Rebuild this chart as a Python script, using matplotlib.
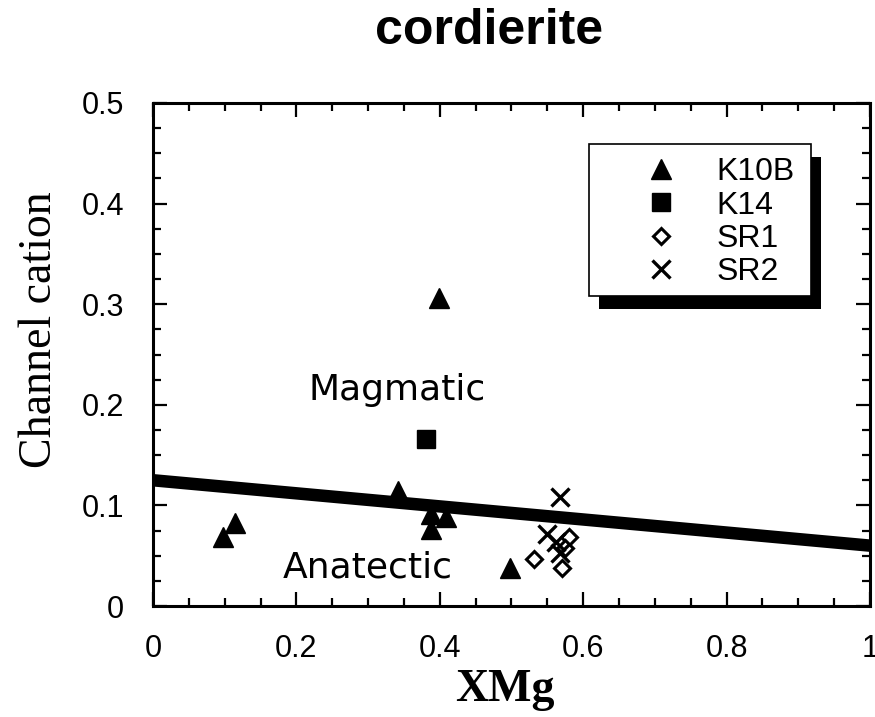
import numpy as np
import matplotlib
matplotlib.use("Agg")
import matplotlib.pyplot as plt
from matplotlib.patches import Rectangle
from matplotlib.ticker import MultipleLocator

# data
k10b_x = [0.097, 0.114, 0.342, 0.388, 0.388, 0.408, 0.399, 0.498]
k10b_y = [0.069, 0.083, 0.114, 0.091, 0.077, 0.088, 0.306, 0.038]
k14_x = [0.381]
k14_y = [0.166]
sr1_x = [0.531, 0.580, 0.571, 0.575]
sr1_y = [0.047, 0.069, 0.038, 0.058]
sr2_x = [0.568, 0.550, 0.562, 0.568]
sr2_y = [0.108, 0.072, 0.064, 0.053]

# boundary line
line_x = [0.0, 1.0]
line_y = [0.125, 0.060]

xtick_vals = [0, 0.2, 0.4, 0.6, 0.8, 1.0]
xtick_labels = ["0", "0.2", "0.4", "0.6", "0.8", "1"]
ytick_vals = [0, 0.1, 0.2, 0.3, 0.4, 0.5]
ytick_labels = ["0", "0.1", "0.2", "0.3", "0.4", "0.5"]

W, H = 875, 717
fig = plt.figure(figsize=(W / 100, H / 100), dpi=100)
# axes box in pixels: left 153, right 870, top 103, bottom 606
ax = fig.add_axes([153 / W, (H - 606) / H, (870 - 153) / W, (606 - 103) / H])

sans = "Liberation Sans"
serif = "Liberation Serif"

ax.plot(line_x, line_y, color="black", lw=9, solid_capstyle="butt", zorder=2)

ax.plot(k10b_x, k10b_y, ls="none", marker="^", ms=14, color="black", label="K10B", zorder=3)
ax.plot(k14_x, k14_y, ls="none", marker="s", ms=13, color="black", label="K14", zorder=3)
ax.plot(sr1_x, sr1_y, ls="none", marker="D", ms=8, mfc="white", mec="black", mew=2.2,
        label="SR1", zorder=4)
ax.plot(sr2_x, sr2_y, ls="none", marker="x", ms=13, color="black", mew=2.4, label="SR2", zorder=4)

ax.set_xlim(0, 1.0)
ax.set_ylim(0, 0.5)
ax.set_xticks(xtick_vals)
ax.set_xticklabels(xtick_labels, fontfamily=sans, fontsize=22)
ax.set_yticks(ytick_vals)
ax.set_yticklabels(ytick_labels, fontfamily=sans, fontsize=22)
ax.xaxis.set_minor_locator(MultipleLocator(0.05))
ax.yaxis.set_minor_locator(MultipleLocator(0.025))
ax.tick_params(which="both", direction="in", top=True, right=True, width=1.6, color="black")
ax.tick_params(which="major", length=10)
ax.tick_params(which="minor", length=6)
ax.tick_params(axis="x", which="major", pad=20)
ax.tick_params(axis="y", which="major", pad=21)
for sp in ax.spines.values():
    sp.set_linewidth(2.2)

ax.text(0.34, 0.215, "Magmatic", fontfamily="DejaVu Sans", fontsize=26,
        ha="center", va="center")
ax.text(0.30, 0.038, "Anatectic", fontfamily="DejaVu Sans", fontsize=26,
        ha="center", va="center")

# legend box with heavy drop shadow
ax.add_patch(Rectangle((0.622, 0.590), 0.31, 0.302, transform=ax.transAxes,
                       facecolor="black", edgecolor="none", zorder=5, clip_on=False))
ax.add_patch(Rectangle((0.608, 0.616), 0.31, 0.302, transform=ax.transAxes,
                       facecolor="white", edgecolor="black", lw=1.2, zorder=6, clip_on=False))
leg = ax.legend(loc="center", bbox_to_anchor=(0.785, 0.763), frameon=False,
                prop={"family": sans, "size": 23}, handletextpad=1.0,
                labelspacing=0.1, handlelength=1.5, borderpad=0.1)
leg.set_zorder(7)

fig.text(489 / W, 1 - 31 / H, "cordierite", fontfamily=sans, fontweight="bold",
         fontsize=36, ha="center", va="center")
fig.text(505 / W, 1 - 690 / H, "XMg", fontfamily=serif, fontweight="bold",
         fontsize=33, ha="center", va="center")
fig.text(40 / W, 1 - 330 / H, "Channel cation", fontfamily=serif, fontsize=33,
         rotation=90, ha="center", va="center")

fig.savefig("out.png", dpi=100)
